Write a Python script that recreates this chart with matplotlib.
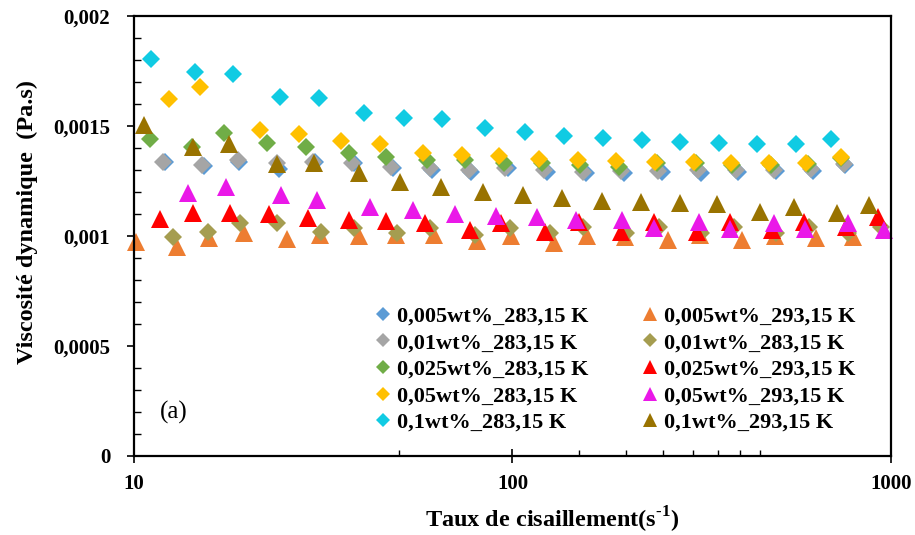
import matplotlib
matplotlib.use("Agg")
import matplotlib.pyplot as plt
from matplotlib.ticker import FixedLocator, FuncFormatter, MultipleLocator, NullFormatter

plt.rcParams["font.family"] = ["Liberation Serif", "DejaVu Serif"]
plt.rcParams["mathtext.fontset"] = "custom"
plt.rcParams["mathtext.rm"] = "Liberation Serif"
plt.rcParams["mathtext.bf"] = "Liberation Serif:bold"

# ---- data (shear rate s-1, viscosity Pa.s) ----
x_005_283 = [12.1, 15.3, 19.0, 24.2, 30.1, 38.2, 48.4, 61.4, 77.9, 97.6, 123, 156, 197, 248, 314, 394, 496, 622, 755]
y_005_283 = [0.001336, 0.001318, 0.001336, 0.001305, 0.001336, 0.001332, 0.001309, 0.001300, 0.001291, 0.001309,
             0.001291, 0.001286, 0.001286, 0.001291, 0.001286, 0.001291, 0.001295, 0.001295, 0.001323]

x_01_283 = [11.9, 15.1, 18.8, 23.9, 29.8, 37.7, 47.8, 60.7, 76.6, 95.8, 121, 154, 193, 243, 309, 389, 490, 614, 751]
y_01_283 = [0.001338, 0.001323, 0.001345, 0.001330, 0.001338, 0.001330, 0.001315, 0.001308, 0.001300, 0.001308,
            0.001300, 0.001292, 0.001295, 0.001295, 0.001300, 0.001300, 0.001300, 0.001305, 0.001327]

x_025_283 = [11.0, 14.2, 17.3, 22.4, 28.5, 36.9, 46.4, 59.5, 75.1, 94.8, 120, 151, 191, 241, 305, 381, 481, 603, 737]
y_025_283 = [0.001440, 0.001406, 0.001467, 0.001421, 0.001403, 0.001376, 0.001360, 0.001345, 0.001345, 0.001330,
             0.001330, 0.001323, 0.001315, 0.001330, 0.001330, 0.001323, 0.001323, 0.001327, 0.001355]

x_05_283 = [12.4, 14.95, 21.5, 27.3, 35.2, 44.8, 57.9, 73.6, 92.4, 117.4, 149, 188, 238, 301, 377, 476, 596, 737]
y_05_283 = [0.001623, 0.001676, 0.001482, 0.001464, 0.001432, 0.001417, 0.001379, 0.001368, 0.001364, 0.001349,
            0.001345, 0.001341, 0.001335, 0.001335, 0.001330, 0.001330, 0.001330, 0.001360]

x_1_283 = [11.1, 14.5, 18.3, 24.3, 30.8, 40.6, 51.7, 65.0, 84.6, 107.6, 136.8, 173.4, 220, 277, 351, 442, 560, 694]
y_1_283 = [0.001803, 0.001747, 0.001736, 0.001633, 0.001629, 0.001560, 0.001538, 0.001533, 0.001492, 0.001471,
           0.001456, 0.001447, 0.001436, 0.001429, 0.001421, 0.001418, 0.001418, 0.001442]

x_005_293 = [10.1, 13.0, 15.8, 19.5, 25.4, 31.0, 39.4, 49.2, 61.9, 80.7, 98.8, 128.6, 157, 198, 257, 313, 405, 493, 633, 792]
y_005_293 = [0.000974, 0.000951, 0.000990, 0.001012, 0.000985, 0.001005, 0.001000, 0.001005, 0.001005, 0.000979,
             0.001000, 0.000970, 0.001000, 0.000994, 0.000982, 0.001005, 0.000982, 0.001000, 0.000990, 0.000997]

x_01_293 = [12.7, 15.7, 19.1, 23.9, 31.2, 38.2, 49.5, 60.7, 79.8, 98.4, 126, 154, 199, 244, 314, 385, 496, 608, 768, 941]
y_01_293 = [0.000997, 0.001017, 0.001058, 0.001060, 0.001017, 0.001038, 0.001012, 0.001035, 0.001005, 0.001035,
            0.001012, 0.001042, 0.001012, 0.001042, 0.001012, 0.001042, 0.001012, 0.001042, 0.001012, 0.001042]

x_025_293 = [11.7, 14.3, 17.95, 22.8, 28.8, 36.9, 46.4, 58.9, 77.0, 93.5, 122, 150, 193, 236, 307, 376, 484, 590, 760, 922]
y_025_293 = [0.001076, 0.001106, 0.001106, 0.001099, 0.001083, 0.001073, 0.001070, 0.001058, 0.001027, 0.001060,
             0.001020, 0.001065, 0.001020, 0.001065, 0.001020, 0.001065, 0.001027, 0.001065, 0.001042, 0.001088]

x_05_293 = [13.9, 17.5, 24.5, 30.4, 42.1, 54.6, 70.7, 90.7, 115.8, 146.8, 195, 236, 311, 376, 491, 592, 768, 957]
y_05_293 = [0.001194, 0.001221, 0.001186, 0.001164, 0.001133, 0.001118, 0.001099, 0.001091, 0.001085, 0.001073,
            0.001073, 0.001038, 0.001065, 0.001030, 0.001058, 0.001030, 0.001058, 0.001027]

x_1_293 = [10.6, 14.3, 17.8, 23.9, 29.9, 39.2, 50.4, 64.8, 83.5, 106.7, 135.3, 172, 218, 277, 348, 451, 555, 718, 876]
y_1_293 = [0.001505, 0.001406, 0.001418, 0.001327, 0.001330, 0.001285, 0.001247, 0.001224, 0.001201, 0.001186,
           0.001171, 0.001160, 0.001156, 0.001149, 0.001145, 0.001110, 0.001133, 0.001106, 0.001141]

labels = ["0,005wt%_283,15 K", "0,01wt%_283,15 K", "0,025wt%_283,15 K", "0,05wt%_283,15 K", "0,1wt%_283,15 K",
          "0,005wt%_293,15 K", "0,01wt%_283,15 K", "0,025wt%_293,15 K", "0,05wt%_293,15 K", "0,1wt%_293,15 K"]

series = [
    (x_005_283, y_005_283, "D", "#5B9BD5"),
    (x_01_283, y_01_283, "D", "#A5A5A5"),
    (x_025_283, y_025_283, "D", "#70AD47"),
    (x_05_283, y_05_283, "D", "#FFC000"),
    (x_1_283, y_1_283, "D", "#10CBE3"),
    (x_005_293, y_005_293, "^", "#ED7D31"),
    (x_01_293, y_01_293, "D", "#A59D50"),
    (x_025_293, y_025_293, "^", "#FF0000"),
    (x_05_293, y_05_293, "^", "#EA18E8"),
    (x_1_293, y_1_293, "^", "#997300"),
]

fig = plt.figure(figsize=(9.15, 5.35), dpi=100)
ax = fig.add_axes([0.1464, 0.1477, 0.8274, 0.8224])

for (xs, ys, m, c), lab in zip(series, labels):
    ms = 9.5 if m == "D" else 12.5
    ax.plot(xs, ys, linestyle="none", marker=m, markersize=ms, color=c, markeredgewidth=0, label=lab,
            clip_on=False)

ax.set_xscale("log")
ax.set_xlim(10, 1000)
ax.set_ylim(0, 0.002)

ax.yaxis.set_major_locator(MultipleLocator(0.0005))
ax.yaxis.set_minor_locator(MultipleLocator(0.0001))
ax.yaxis.set_major_formatter(FuncFormatter(lambda v, p: ("%g" % round(v, 6)).replace(".", ",")))
ax.xaxis.set_major_locator(FixedLocator([10, 100, 1000]))
ax.xaxis.set_major_formatter(FuncFormatter(lambda v, p: "%d" % v))
ax.xaxis.set_minor_locator(FixedLocator([50, 150, 200, 250, 300, 350, 400, 450]))
ax.xaxis.set_minor_formatter(NullFormatter())

ax.tick_params(axis="y", which="major", direction="out", length=5, width=1.2, labelsize=15, pad=12)
ax.tick_params(axis="y", which="minor", direction="in", length=5, width=1)
ax.tick_params(axis="x", which="major", direction="inout", length=10, width=1.2, labelsize=15, pad=8)
ax.tick_params(axis="x", which="minor", direction="in", length=4, width=1)
for t in ax.get_xticklabels() + ax.get_yticklabels():
    t.set_fontweight("bold")

for s in ax.spines.values():
    s.set_linewidth(1.6)

ax.set_ylabel("Viscosité dynamique  (Pa.s)", fontsize=17.5, fontweight="bold")
ax.yaxis.set_label_coords(-0.127, 0.532)
ax.set_xlabel("Taux de cisaillement(s$^{\\mathbf{\u2010}\\mathbf{1}}$)", fontsize=17.5, fontweight="bold")
ax.xaxis.set_label_coords(0.552, -0.112)

ax.text(0.034, 0.1, "(a)", transform=ax.transAxes, fontsize=18, ha="left", va="center")

ax.legend(ncol=2, loc="upper left", bbox_to_anchor=(0.300, 0.366), frameon=False,
          prop={"weight": "bold", "size": 16}, handletextpad=0.1, handlelength=1.0,
          columnspacing=2.3, labelspacing=0.27, markerscale=0.75, borderpad=0)

fig.savefig("out.png", dpi=100)
